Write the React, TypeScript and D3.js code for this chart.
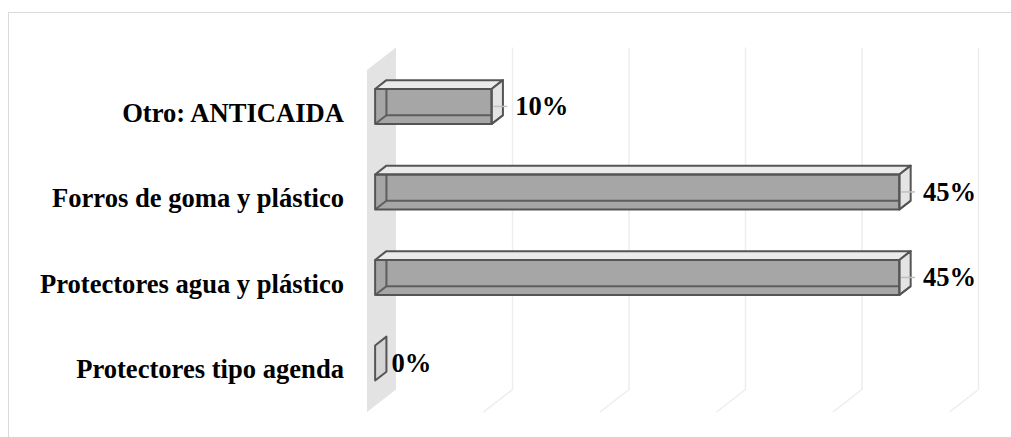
import React from "react";
import * as d3 from "d3";

const categories = [
  "Otro: ANTICAIDA",
  "Forros de goma y plástico",
  "Protectores agua y plástico",
  "Protectores tipo agenda",
];
const values = [10, 45, 45, 0];
const valueLabels = ["10%", "45%", "45%", "0%"];
const gridTicks = [0, 10, 20, 30, 40, 50, 60];

const W = 1011;
const H = 437;
const X0 = 367; // front plane x of value 0
const FRONT_TOP = 70;
const FRONT_BOTTOM = 412;
const DEPTH_DX = 29;
const DEPTH_DY = 22.5;
const ZF = 0.28;
const ZB = 0.67;

export default function App() {
  const x = d3.scaleLinear().domain([0, 50]).range([0, 582.5]);
  const y = d3
    .scaleBand<string>()
    .domain(categories)
    .range([FRONT_TOP, FRONT_BOTTOM])
    .paddingInner(0.59)
    .paddingOuter(0.295);
  const bw = y.bandwidth();

  const P = (v: number, yy: number, z: number): [number, number] => [
    X0 + x(v) + z * DEPTH_DX,
    yy - z * DEPTH_DY,
  ];
  const poly = (pts: [number, number][]) =>
    pts.map((p) => `${p[0].toFixed(2)},${p[1].toFixed(2)}`).join(" ");
  const line = d3.line<[number, number]>();

  const wallBack: [number, number][] = [
    P(0, FRONT_TOP, 0),
    P(0, FRONT_TOP, 1),
    P(0, FRONT_BOTTOM, 1),
    P(0, FRONT_BOTTOM, 0),
  ];

  const edge = "#555555";
  const font = "'Liberation Serif', 'Times New Roman', serif";

  return (
    <svg
      width={W}
      height={H}
      style={{ position: "absolute", left: 0, top: 0, display: "block", overflow: "hidden" }}
    >
      <rect x={0} y={0} width={W} height={H} fill="#ffffff" />
      <rect
        x={8.5}
        y={12.5}
        width={1200}
        height={600}
        fill="none"
        stroke="#d9d9d9"
        strokeWidth={1}
      />
      {/* gridlines */}
      {gridTicks.slice(1).map((t) => (
        <path
          key={t}
          d={
            line([
              P(t, FRONT_TOP, 1),
              P(t, FRONT_BOTTOM, 1),
              P(t, FRONT_BOTTOM, 0),
            ]) || ""
          }
          fill="none"
          stroke="#ededed"
          strokeWidth={1.5}
        />
      ))}
      {/* left wall */}
      <polygon points={poly(wallBack)} fill="#e3e3e3" />

      {/* bars */}
      {categories.map((c, i) => {
        const v = values[i];
        const yt = y(c) as number;
        const yb = yt + bw;
        const front = [P(0, yt, ZF), P(v, yt, ZF), P(v, yb, ZF), P(0, yb, ZF)] as [number, number][];
        const top = [P(0, yt, ZF), P(v, yt, ZF), P(v, yt, ZB), P(0, yt, ZB)] as [number, number][];
        const right = [P(v, yt, ZF), P(v, yt, ZB), P(v, yb, ZB), P(v, yb, ZF)] as [number, number][];
        const left = [P(0, yt, ZF), P(0, yt, ZB), P(0, yb, ZB), P(0, yb, ZF)] as [number, number][];
        const midY = (yt + yb) / 2 - ZF * DEPTH_DY;
        const rightMidX = P(v, yt, (ZF + ZB) / 2)[0];
        const labelX = v > 0 ? rightMidX + 18 : P(0, yt, ZB)[0] + 5;
        return (
          <g key={c}>
            {v > 0 ? (
              <g>
                <polygon points={poly(left)} fill="#a3a3a3" />
                <polygon points={poly(front)} fill="#a6a6a6" />
                {/* hidden back edges seen through the translucent front */}
                <path
                  d={line([P(0, yt, ZB), P(0, yb, ZB), P(v, yb, ZB)]) || ""}
                  fill="none"
                  stroke="#5e5e5e"
                  strokeWidth={2}
                />
                <path
                  d={line([P(0, yb, ZF), P(0, yb, ZB)]) || ""}
                  fill="none"
                  stroke="#5e5e5e"
                  strokeWidth={2}
                />
                <polygon points={poly(top)} fill="#ebebeb" stroke={edge} strokeWidth={2} strokeLinejoin="round" />
                <polygon points={poly(right)} fill="#e4e4e4" stroke={edge} strokeWidth={2} strokeLinejoin="round" />
                <path
                  d={line([P(v, yb, ZB), P(v, yb, ZF)]) || ""}
                  fill="none"
                  stroke={edge}
                  strokeWidth={2}
                />
                <polygon
                  points={poly(front)}
                  fill="none"
                  stroke={edge}
                  strokeWidth={2}
                  strokeLinejoin="round"
                />
                <line
                  x1={rightMidX - 4}
                  x2={rightMidX + 10}
                  y1={midY}
                  y2={midY}
                  stroke="#bfbfbf"
                  strokeWidth={1.5}
                />
              </g>
            ) : (
              <polygon points={poly(left)} fill="#d4d4d4" stroke={edge} strokeWidth={2} strokeLinejoin="round" />
            )}
            <text
              x={labelX}
              y={midY + 8.8}
              fontFamily={font}
              fontWeight="bold"
              fontSize={26.6}
              fill="#000"
            >
              {valueLabels[i]}
            </text>
            <text
              x={344}
              y={yt + bw / 2 + 8.8}
              textAnchor="end"
              fontFamily={font}
              fontWeight="bold"
              fontSize={26.6}
              fill="#000"
            >
              {c}
            </text>
          </g>
        );
      })}
    </svg>
  );
}
